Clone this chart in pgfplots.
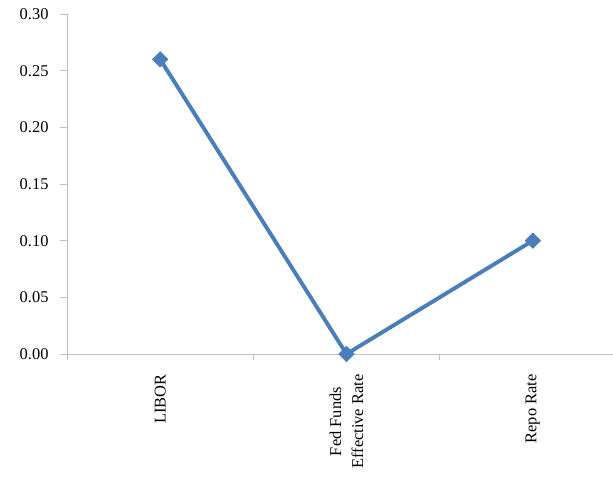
\documentclass[border=0pt]{standalone}
\usepackage{fontspec}
\setmainfont{Liberation Serif}
\usepackage{pgfplots}
\pgfplotsset{compat=1.18}
\definecolor{seriesblue}{HTML}{4A7EBB}
\definecolor{axisgray}{HTML}{BFBFBF}
\newcommand{\chartfont}{\fontsize{16.5}{22}\selectfont}
\begin{document}
\begin{tikzpicture}
\begin{axis}[
  scale only axis,
  width=559bp, height=340bp,
  xmin=-0.5, xmax=2.5,
  ymin=0, ymax=0.30,
  axis x line*=bottom,
  axis y line*=left,
  axis line style={axisgray, line width=0.8bp},
  xtick={0,1,2},
  xticklabels={LIBOR, {Fed Funds\\Effective Rate}, Repo Rate},
  major x tick style={draw=none},
  minor xtick={-0.5,0.5,1.5,2.5},
  minor x tick style={axisgray, line width=0.8bp},
  minor tick length=6bp,
  tick align=outside,
  ytick={0,0.05,...,0.30},
  major y tick style={axisgray, line width=0.8bp},
  major tick length=7bp,
  /pgf/number format/fixed,
  /pgf/number format/fixed zerofill,
  /pgf/number format/precision=2,
  /pgf/number format/assume math mode=true,
  tick label style={font=\chartfont},
  yticklabel style={anchor=east, xshift=-8bp},
  xticklabel style={yshift=-10bp, rotate=90, anchor=east, align=center},
  clip=false,
]
\addplot[seriesblue, line width=3.9bp, mark=square*, mark size=5.5bp,
  mark options={rotate=45, line width=0.5bp, fill=seriesblue}]
  coordinates {(0,0.26) (1,0.00) (2,0.10)};
\end{axis}
\pgfresetboundingbox
\path (current axis.south west) ++(-67bp,-124bp) rectangle ++(613bp,478bp);
\end{tikzpicture}
\end{document}
